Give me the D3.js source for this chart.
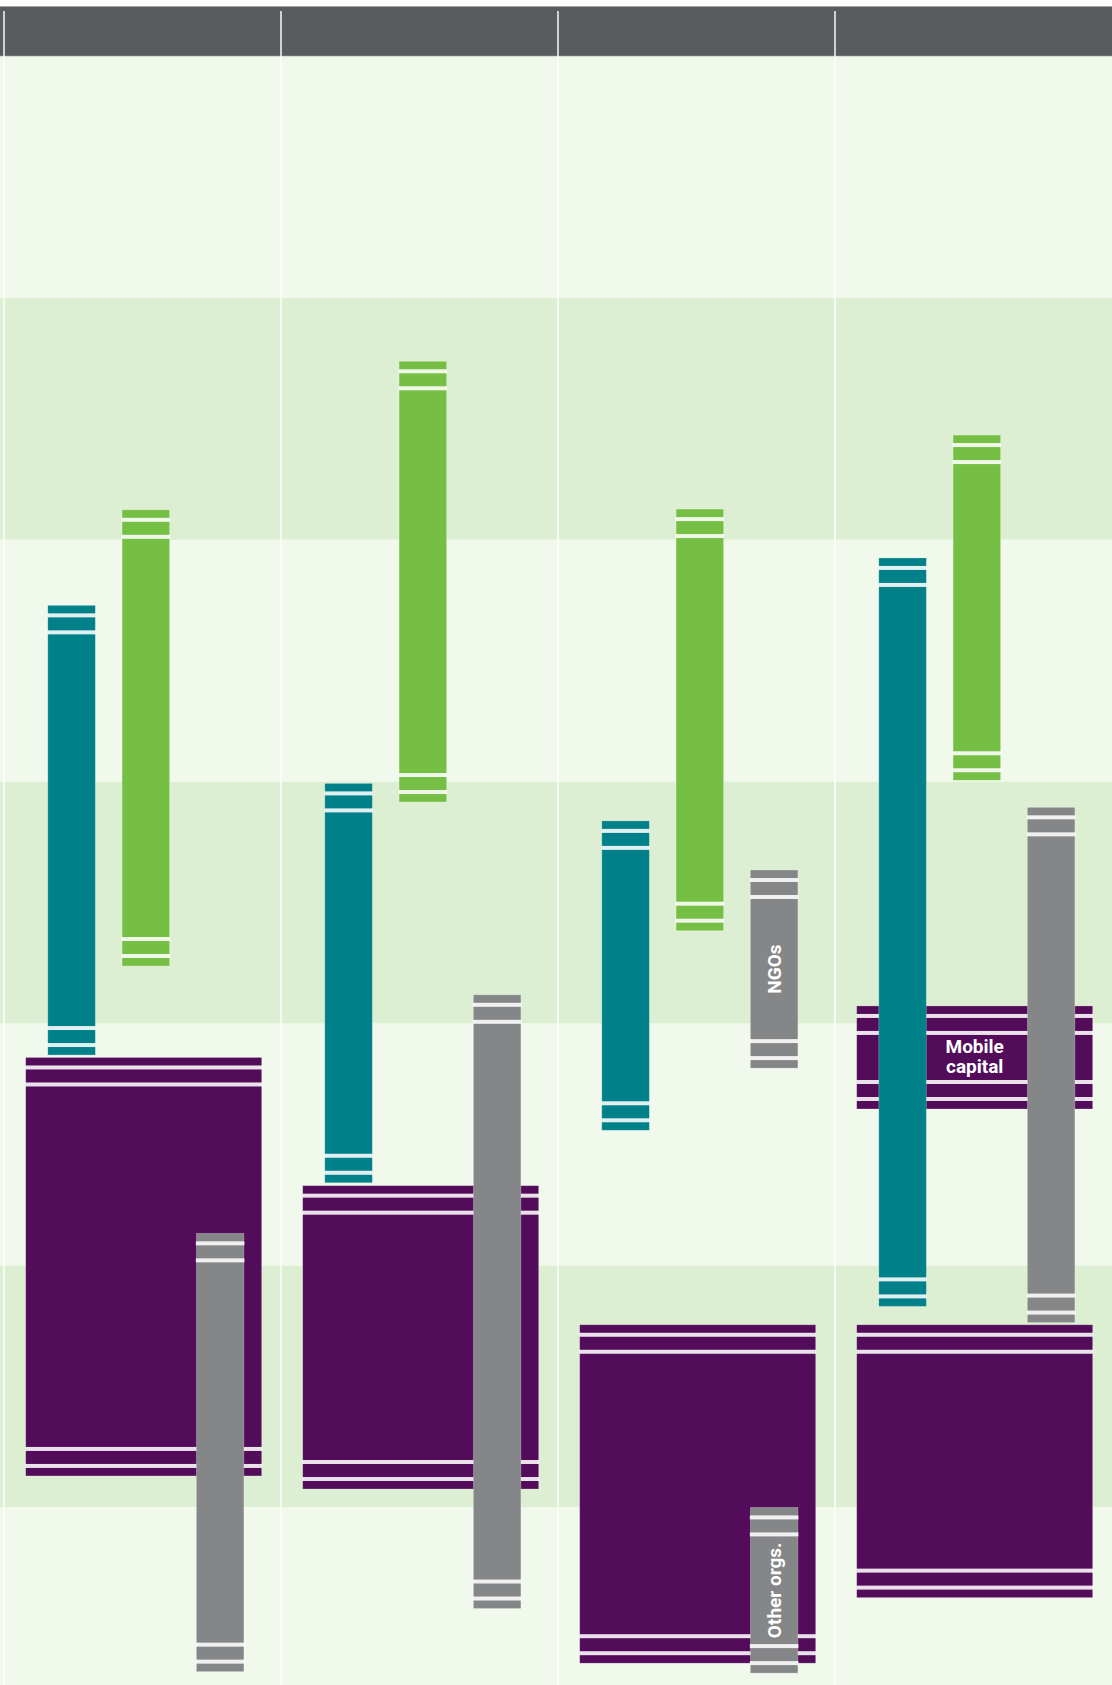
<!DOCTYPE html>
<html>
<head>
<meta charset="utf-8">
<script src="https://cdn.jsdelivr.net/npm/d3@7/dist/d3.min.js"></script>
<style>
  html, body { margin: 0; padding: 0; background: #ffffff; }
  svg { display: block; }
</style>
</head>
<body>
<div id="chart"></div>
<script>
// ---------- DATA (values in band units) ----------
const columns = ["Column 1", "Column 2", "Column 3", "Column 4"];
const bandTicks = [0, 1, 2, 3, 4, 5, 6, 7];

// purple ranges (wide bars)
const purpleCols  = [0, 1, 2, 3, 3];
const purpleFrom  = [4.14, 4.67, 5.245, 3.927, 5.245];
const purpleTo    = [5.87, 5.924, 6.644, 4.353, 6.373];
const purpleLabel = ["", "", "", "Mobile capital", ""];

// teal ranges
const tealCols = [0, 1, 2, 3];
const tealFrom = [2.271, 3.007, 3.162, 2.075];
const tealTo   = [4.130, 4.658, 4.441, 5.169];

// green ranges
const greenCols = [0, 1, 2, 3];
const greenFrom = [1.876, 1.262, 1.873, 1.567];
const greenTo   = [3.762, 3.084, 3.616, 2.994];

// grey ranges
const greyCols  = [0, 1, 2, 2, 3];
const greyFrom  = [4.867, 3.881, 3.365, 6.000, 3.106];
const greyTo    = [6.679, 6.418, 4.184, 6.685, 5.236];
const greyLabel = ["", "", "NGOs", "Other orgs.", ""];

// ---------- STYLE ----------
const W = 1112, H = 1685;
const colors = {
  header: "#5a5b5d",
  bandLight: "#f1f9ec",
  bandDark: "#ddefd2",
  purple: "#520c5a",
  teal: "#00818a",
  green: "#75bf44",
  grey: "#858688"
};

const svg = d3.select("#chart").append("svg")
  .attr("width", W).attr("height", H)
  .attr("viewBox", `0 0 ${W} ${H}`);

// scales
const y = d3.scaleLinear().domain([0, 7]).range([56, 56 + 7 * 241.9]);
const x = d3.scaleBand().domain(columns).range([4, 1112]);
const inner = d3.scaleBand().domain(["teal", "green", "grey"])
  .range([43.8, 239.9]).paddingInner(0.36).paddingOuter(0);
const purpleInset = 21.7, purpleWidth = 236;

// background bands
svg.append("g").selectAll("rect")
  .data(d3.range(bandTicks.length - 1))
  .join("rect")
  .attr("x", 0).attr("width", W)
  .attr("y", d => y(bandTicks[d]))
  .attr("height", d => Math.min(y(bandTicks[d + 1]), H) - y(bandTicks[d]))
  .attr("fill", d => d % 2 === 0 ? colors.bandLight : colors.bandDark);

// header
svg.append("rect").attr("x", 0).attr("y", 6).attr("width", W).attr("height", 50)
  .attr("fill", colors.header);
svg.append("rect").attr("x", 0).attr("y", 6).attr("width", W).attr("height", 1)
  .attr("fill", "#a3a4a6");
svg.append("rect").attr("x", 0).attr("y", 55.5).attr("width", W).attr("height", 1)
  .attr("fill", "#9fa3a0").attr("opacity", 0.6);

// column separators
const seps = svg.append("g");
seps.selectAll("line.body")
  .data(columns)
  .join("line")
  .attr("x1", d => x(d)).attr("x2", d => x(d))
  .attr("y1", 56).attr("y2", H)
  .attr("stroke", "#ffffff").attr("stroke-width", 1.6).attr("opacity", 0.9);
seps.selectAll("line.head")
  .data(columns)
  .join("line")
  .attr("x1", d => x(d)).attr("x2", d => x(d))
  .attr("y1", 11).attr("y2", 56)
  .attr("stroke", "#d0d1d2").attr("stroke-width", 2);

// bar drawing with end strips
function drawBars(items, fill) {
  const g = svg.append("g");
  const bars = g.selectAll("g").data(items).join("g");
  bars.append("rect")
    .attr("x", d => d.x).attr("width", d => d.w)
    .attr("y", d => y(d.from))
    .attr("height", d => y(d.to) - y(d.from))
    .attr("fill", fill)
    .attr("stroke", "rgba(255,255,255,0.3)").attr("stroke-width", 0.8);
  // white gaps: 8px strip, 4px gap, 13px strip, 4px gap at both ends
  const gapOffsets = [8, 25];
  bars.each(function (d) {
    const sel = d3.select(this);
    const top = y(d.from), bot = y(d.to);
    gapOffsets.forEach(o => {
      sel.append("rect").attr("x", d.x - 0.5).attr("width", d.w + 1)
        .attr("y", top + o).attr("height", 4)
        .attr("fill", "#ffffff").attr("opacity", 0.88);
      sel.append("rect").attr("x", d.x - 0.5).attr("width", d.w + 1)
        .attr("y", bot - o - 4).attr("height", 4)
        .attr("fill", "#ffffff").attr("opacity", 0.88);
    });
  });
  return bars;
}

const purpleItems = purpleCols.map((c, i) => ({
  x: x(columns[c]) + purpleInset, w: purpleWidth,
  from: purpleFrom[i], to: purpleTo[i], label: purpleLabel[i]
}));
const tealItems = tealCols.map((c, i) => ({
  x: x(columns[c]) + inner("teal"), w: inner.bandwidth(),
  from: tealFrom[i], to: tealTo[i]
}));
const greenItems = greenCols.map((c, i) => ({
  x: x(columns[c]) + inner("green"), w: inner.bandwidth(),
  from: greenFrom[i], to: greenTo[i]
}));
const greyItems = greyCols.map((c, i) => ({
  x: x(columns[c]) + inner("grey"), w: inner.bandwidth(),
  from: greyFrom[i], to: greyTo[i], label: greyLabel[i]
}));

drawBars(purpleItems, colors.purple);
drawBars(tealItems, colors.teal);
drawBars(greenItems, colors.green);
drawBars(greyItems, colors.grey);

const font = "Roboto, 'Open Sans', sans-serif";

// purple labels (horizontal, two lines)
const pl = svg.append("g");
purpleItems.filter(d => d.label).forEach(d => {
  const cx = d.x + d.w / 2;
  const cy = (y(d.from) + y(d.to)) / 2;
  const words = d.label.split(" ");
  const t = pl.append("text")
    .attr("x", cx).attr("y", cy - 4)
    .attr("text-anchor", "middle")
    .attr("fill", "#ffffff")
    .attr("font-family", font).attr("font-weight", 700).attr("font-size", 19);
  words.forEach((w, k) => {
    t.append("tspan").attr("x", cx).attr("dy", k === 0 ? 0 : 20).text(w);
  });
});

// grey labels (rotated)
const gl = svg.append("g");
greyItems.filter(d => d.label).forEach(d => {
  const cx = d.x + d.w / 2;
  const cy = (y(d.from) + y(d.to)) / 2;
  gl.append("text")
    .attr("transform", `translate(${cx},${cy}) rotate(-90)`)
    .attr("text-anchor", "middle")
    .attr("dominant-baseline", "central")
    .attr("fill", "#ffffff")
    .attr("font-family", font).attr("font-weight", 700).attr("font-size", 19)
    .text(d.label);
});
</script>
</body>
</html>
